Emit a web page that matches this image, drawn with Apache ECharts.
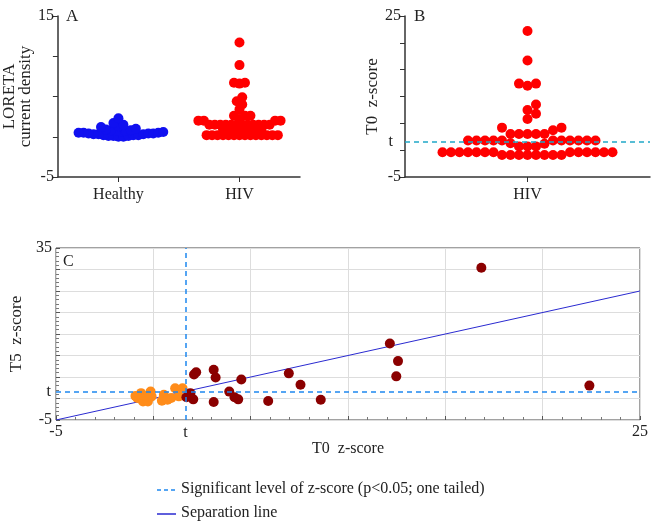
<!DOCTYPE html>
<html>
<head>
<meta charset="utf-8">
<script src="https://cdn.jsdelivr.net/npm/echarts@6/dist/echarts.min.js"></script>
<style>html,body{margin:0;background:#fff}#main{width:651px;height:522px}</style>
</head>
<body>
<div id="main"></div>
<script>
// panel A: LORETA current density
var healthyA = [2.3, 1.7, 1.5, 1.3, 1.2, 1.0, 0.9, 0.8, 0.8, 0.7, 0.7, 0.6, 0.6, 0.5, 0.5, 0.5, 0.4, 0.4, 0.4,
  0.3, 0.3, 0.3, 0.2, 0.2, 0.2, 0.1, 0.1, 0.1, 0.0, 0.0];
var hivA = [11.7, 8.9, 6.7, 6.6, 6.7, 4.9, 4.4, 4.0, 3.4, 2.6, 2.6, 2.6, 2.2, 2.0, 2.0, 2.0, 2.0,
  1.5, 1.5, 1.5, 1.5, 1.5, 1.5, 1.5, 1.5, 1.5, 1.5, 1.5, 1.5,
  0.9, 0.9, 0.9, 0.9, 0.9, 0.9, 0.9, 0.9,
  0.2, 0.2, 0.2, 0.2, 0.2, 0.2, 0.2, 0.2, 0.2, 0.2, 0.2, 0.2, 0.2, 0.2];
// panel B: T0 z-score
var hivB = [22.2, 16.7, 12.4, 12.0, 12.4, 8.5, 7.5, 6.8, 5.8, 4.2, 4.2, 3.7, 3.0, 3.0, 3.0, 3.0, 3.0,
  1.8, 1.8, 1.8, 1.8, 1.8, 1.8, 1.8, 1.8, 1.8, 1.8, 1.8, 1.3, 1.2, 0.7, 0.7, 0.7,
  -0.4, -0.4, -0.4, -0.4, -0.4, -0.4, -0.4, -0.4, -0.4, -0.4, -0.4, -0.4, -0.4,
  -0.9, -0.9, -0.9, -0.9, -0.9, -0.9, -0.9, -0.9];
// panel C: T0 vs T5 z-scores
var t0 = [16.85, 22.4, 12.15, 12.57, 12.48, 6.96, 7.56, 8.6, 5.9, 4.52, 3.9, 4.17, 4.36, 3.1, 3.2, 3.1, 2.09, 2.2, 1.9, 1.7, 2.05,
  -0.63, -0.14, -0.82, -0.53, -0.28, -0.09, 0.54, 0.44, 0.73, 0.92, 1.12, 1.5, 1.31, -0.34, -0.92];
var t5 = [30.4, 3.0, 12.8, 8.7, 5.15, 5.85, 3.2, -0.3, -0.6, 4.4, 1.6, 0.3, -0.2, 6.7, 4.9, -0.8, 5.6, 6.1, 1.25, 0.3, -0.2,
  1.25, 1.6, 0.1, -0.7, -0.7, 0.5, 0.85, -0.5, -0.3, 0.1, 2.4, 2.4, 0.5, 0.5, 0.6];
var tCrit = 1.645;
var sepX = [-5, 25];

var serif = '"Liberation Serif", "Times New Roman", serif';

// simple beeswarm: offsets in x units so that dots don't overlap (much) on screen
function swarm(vals, center, pxPerX, pxPerY, d) {
  var sorted = vals.slice().sort(function (a, b) { return a - b; });
  var placed = [];
  sorted.forEach(function (v) {
    var k = 0, off = 0;
    while (true) {
      var cand = k === 0 ? 0 : (k % 2 ? 1 : -1) * Math.ceil(k / 2) * d * 0.5;
      var ok = placed.every(function (p) {
        var dx = cand - p[0], dy = (v - p[1]) * pxPerY;
        return dx * dx + dy * dy >= d * d * 0.95;
      });
      if (ok) { off = cand; break; }
      k++;
    }
    placed.push([off, v]);
  });
  return placed.map(function (p) { return [center + p[0] / pxPerX, p[1]]; });
}

var gA = {left: 57, top: 16, width: 243, height: 161};
var gB = {left: 405, top: 16, width: 245, height: 161};
var gC = {left: 56, top: 248, width: 586, height: 172};

var dataHealthy = swarm(healthyA, 0, gA.width / 4, gA.height / 20, 5);
var dataHivA = swarm(hivA, 2, gA.width / 4, gA.height / 20, 5.5);
var dataHivB = swarm(hivB, 0, gB.width / 2, gB.height / 30, 8.5);

var lowC = [], highC = [];
t0.forEach(function (x, i) { (x < tCrit ? lowC : highC).push([x, t5[i]]); });

var lbl = {fontFamily: serif, fontSize: 16, color: '#222'};
var axLine = {show: true, onZero: false, lineStyle: {color: '#333', width: 1.5}};

var chart = echarts.init(document.getElementById('main'));
chart.setOption({
  animation: false,
  grid: [
    Object.assign({}, gA),
    Object.assign({}, gB),
    Object.assign({show: true, borderColor: '#444', borderWidth: 1}, gC)
  ],
  xAxis: [
    {gridIndex: 0, type: 'value', min: -1, max: 3, splitLine: {show: false}, axisLine: axLine,
      axisTick: {show: true, customValues: [0, 2], length: 5, lineStyle: {color: '#333'}},
      axisLabel: Object.assign({customValues: [0, 2], margin: 10, formatter: function (v) { return v === 0 ? 'Healthy' : 'HIV'; }}, lbl)},
    {gridIndex: 1, type: 'value', min: -1, max: 1, splitLine: {show: false}, axisLine: axLine,
      axisTick: {show: true, customValues: [0], length: 5, lineStyle: {color: '#333'}},
      axisLabel: Object.assign({customValues: [0], margin: 10, formatter: function () { return 'HIV'; }}, lbl)},
    {gridIndex: 2, type: 'value', min: -5, max: 25, interval: 5,
      splitLine: {show: true, lineStyle: {color: '#ddd'}},
      axisLine: {show: false, onZero: false}, axisTick: {inside: true, length: 4, lineStyle: {color: '#555'}},
      minorTick: {show: true, splitNumber: 5, length: 3, lineStyle: {color: '#777'}},
      axisLabel: Object.assign({formatter: function (v) { return (v === -5 || v === 25) ? String(v) : ''; }, margin: 4}, lbl),
      name: 'T0  z-score', nameLocation: 'middle', nameGap: 11,
      nameTextStyle: {fontFamily: serif, fontSize: 16, color: '#222'}}
  ],
  yAxis: [
    {gridIndex: 0, type: 'value', min: -5, max: 15, interval: 5, splitLine: {show: false}, axisLine: axLine,
      axisTick: {show: true, length: 5, lineStyle: {color: '#333'}},
      axisLabel: Object.assign({formatter: function (v) { return (v === -5 || v === 15) ? String(v) : ''; }, margin: 4}, lbl),
      name: 'LORETA\ncurrent density', nameLocation: 'middle', nameGap: 18,
      nameTextStyle: {fontFamily: serif, fontSize: 17, color: '#222', lineHeight: 16}},
    {gridIndex: 1, type: 'value', min: -5, max: 25, interval: 5, splitLine: {show: false}, axisLine: axLine,
      axisTick: {show: true, length: 5, lineStyle: {color: '#333'}},
      axisLabel: Object.assign({formatter: function (v) { return (v === -5 || v === 25) ? String(v) : ''; }, margin: 4}, lbl),
      name: 'T0  z-score', nameLocation: 'middle', nameGap: 15,
      nameTextStyle: {fontFamily: serif, fontSize: 17, color: '#222'}},
    {gridIndex: 2, type: 'value', min: -5, max: 35, interval: 5,
      splitLine: {show: true, lineStyle: {color: '#ddd'}},
      axisLine: {show: false, onZero: false}, axisTick: {inside: true, length: 4, lineStyle: {color: '#555'}},
      minorTick: {show: true, splitNumber: 5, length: 3, lineStyle: {color: '#777'}},
      axisLabel: Object.assign({formatter: function (v) { return (v === -5 || v === 35) ? String(v) : ''; }, margin: 4}, lbl),
      name: 'T5  z-score', nameLocation: 'middle', nameGap: 16,
      nameTextStyle: {fontFamily: serif, fontSize: 17, color: '#222'}}
  ],
  series: [
    {type: 'scatter', xAxisIndex: 0, yAxisIndex: 0, data: dataHealthy, symbolSize: 10, itemStyle: {color: '#1010f0', opacity: 1}},
    {type: 'scatter', xAxisIndex: 0, yAxisIndex: 0, data: dataHivA, symbolSize: 10, itemStyle: {color: '#ff0000', opacity: 1}},
    {type: 'scatter', xAxisIndex: 1, yAxisIndex: 1, data: dataHivB, symbolSize: 10, itemStyle: {color: '#ff0000', opacity: 1}, z: 3,
      markLine: {silent: true, symbol: 'none', lineStyle: {color: '#20a8c8', type: [5, 4], width: 1.5},
        label: {position: 'start', formatter: 't', fontFamily: serif, fontSize: 16, color: '#222', distance: 12},
        data: [{yAxis: tCrit}]}},
    {type: 'line', xAxisIndex: 2, yAxisIndex: 2, data: sepX.map(function (x) { return [x, x]; }), symbol: 'none',
      lineStyle: {color: '#2a2ad0', width: 1}, z: 1},
    {type: 'scatter', xAxisIndex: 2, yAxisIndex: 2, data: lowC, symbolSize: 10, itemStyle: {color: '#ff8c1a', opacity: 1}, z: 3,
      markLine: {silent: true, symbol: 'none', lineStyle: {color: '#1e88f0', type: [5, 4], width: 1.5},
        label: {position: 'start', formatter: 't', fontFamily: serif, fontSize: 16, color: '#222', distance: 5},
        data: [{yAxis: tCrit}, {xAxis: tCrit}]}},
    {type: 'scatter', xAxisIndex: 2, yAxisIndex: 2, data: highC, symbolSize: 10, itemStyle: {color: '#8b0000', opacity: 1}, z: 3}
  ],
  graphic: [
    {type: 'text', left: 66, top: 8, style: {text: 'A', font: '17px ' + serif, fill: '#222'}},
    {type: 'text', left: 414, top: 8, style: {text: 'B', font: '17px ' + serif, fill: '#222'}},
    {type: 'text', left: 63, top: 254, style: {text: 'C', font: '16px ' + serif, fill: '#222'}},
    {type: 'line', shape: {x1: 157, y1: 490, x2: 176, y2: 490}, style: {stroke: '#1e88f0', lineWidth: 1.5, lineDash: [4, 3]}},
    {type: 'text', left: 181, top: 481, style: {text: 'Significant level of z-score (p<0.05; one tailed)', font: '16px ' + serif, fill: '#222'}},
    {type: 'line', shape: {x1: 157, y1: 514, x2: 176, y2: 514}, style: {stroke: '#2a2ad0', lineWidth: 1.5}},
    {type: 'text', left: 181, top: 505, style: {text: 'Separation line', font: '16px ' + serif, fill: '#222'}}
  ]
});
</script>
</body>
</html>
